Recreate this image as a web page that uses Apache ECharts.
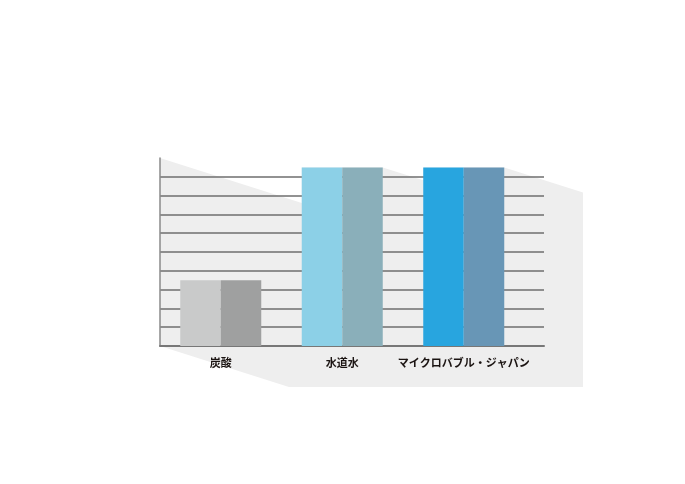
<!DOCTYPE html>
<html>
<head>
<meta charset="utf-8">
<script src="https://cdn.jsdelivr.net/npm/echarts@6/dist/echarts.min.js"></script>
<style>
  html, body { margin: 0; padding: 0; background: #fff; }
  #main { width: 685px; height: 484px; }
</style>
</head>
<body>
<div id="main"></div>
<script>
(function () {
    'use strict';

    // データ
    var categories = ['炭酸', '水道水', 'マイクロバブル・ジャパン'];
    var leftValues = [3.5, 9.5, 9.5];
    var rightValues = [3.5, 9.5, 9.5];
    var leftColors = ['#c9caca', '#8cd0e7', '#28a5df'];
    var rightColors = ['#9fa0a0', '#8aafba', '#6896b6'];
    var yMax = 10;

    // レイアウト
    var gridLeft = 160, gridTop = 158, gridBottom = 138;
    var lineRight = 141;      // 罫線の右端
    var barRight = 160.5;     // 棒グラフ側の右端
    var barWidth = 40.5;
    var shadowSlope = 0.318;
    var shadowExtraX = 39, shadowExtraY = 41;
    var shadowColor = '#eeeeee';

    function makeData(values, colors) {
        return values.map(function (v, i) {
            return { value: v, itemStyle: { color: colors[i] } };
        });
    }

    // 影の多角形（棒の位置から計算）
    function renderShadow(params, api) {
        if (params.dataIndex !== 0) { return; }
        var rect = params.coordSys;
        var baseY = rect.y + rect.height;
        var rightX = 685 - lineRight + shadowExtraX;
        var pts = [[rect.x, rect.y]];
        var px = rect.x, py = rect.y;
        for (var i = 0; i < categories.length; i++) {
            var top = api.coord([i, Math.max(leftValues[i], rightValues[i])]);
            var xl = top[0] - barWidth, xr = top[0] + barWidth;
            var yAt = py + shadowSlope * (xl - px);
            if (yAt > top[1]) {
                pts.push([xl, yAt], [xl, top[1]], [xr, top[1]]);
                px = xr; py = top[1];
            }
        }
        pts.push([rightX, py + shadowSlope * (rightX - px)]);
        pts.push([rightX, baseY + shadowExtraY]);
        pts.push([rect.x + shadowExtraY / shadowSlope, baseY + shadowExtraY]);
        pts.push([rect.x, baseY]);
        return {
            type: 'polygon',
            shape: { points: pts },
            style: { fill: shadowColor },
            z2: -10
        };
    }

    var myChart = echarts.init(document.getElementById('main'));

    var option = {
        backgroundColor: '#ffffff',
        animation: false,
        grid: [
            { left: gridLeft, top: gridTop, right: lineRight, bottom: gridBottom },
            { left: gridLeft, top: gridTop, right: barRight, bottom: gridBottom }
        ],
        xAxis: [
            {
                gridIndex: 0, type: 'value', min: 0, max: 1,
                axisLine: { show: true, onZero: false, lineStyle: { color: '#777777', width: 2 } },
                axisTick: { show: false }, axisLabel: { show: false }, splitLine: { show: false }
            },
            {
                gridIndex: 1, type: 'category', data: categories,
                axisLine: { show: false }, axisTick: { show: false },
                axisLabel: {
                    interval: 0, hideOverlap: false,
                    margin: 11, color: '#1a1311', fontSize: 11, fontWeight: 'bold',
                    fontFamily: '"Noto Sans CJK JP", sans-serif'
                }
            }
        ],
        yAxis: [
            {
                gridIndex: 0, type: 'value', min: 0, max: yMax, interval: 1,
                axisLine: { show: true, lineStyle: { color: '#8a8a8a', width: 1.5 } },
                axisTick: { show: false }, axisLabel: { show: false },
                splitLine: { show: true, showMaxLine: false, lineStyle: { color: '#6e6e6e', width: 1.5 } }
            },
            {
                gridIndex: 1, type: 'value', min: 0, max: yMax, show: false,
                splitLine: { show: false }
            }
        ],
        series: [
            {
                type: 'custom', xAxisIndex: 1, yAxisIndex: 1, z: -1,
                silent: true, clip: false,
                data: [0],
                renderItem: renderShadow
            },
            {
                type: 'bar', xAxisIndex: 1, yAxisIndex: 1,
                barWidth: barWidth, barGap: 0,
                data: makeData(leftValues, leftColors)
            },
            {
                type: 'bar', xAxisIndex: 1, yAxisIndex: 1,
                barWidth: barWidth, barGap: 0,
                data: makeData(rightValues, rightColors)
            }
        ]
    };

    myChart.setOption(option);
})();
</script>
</body>
</html>
